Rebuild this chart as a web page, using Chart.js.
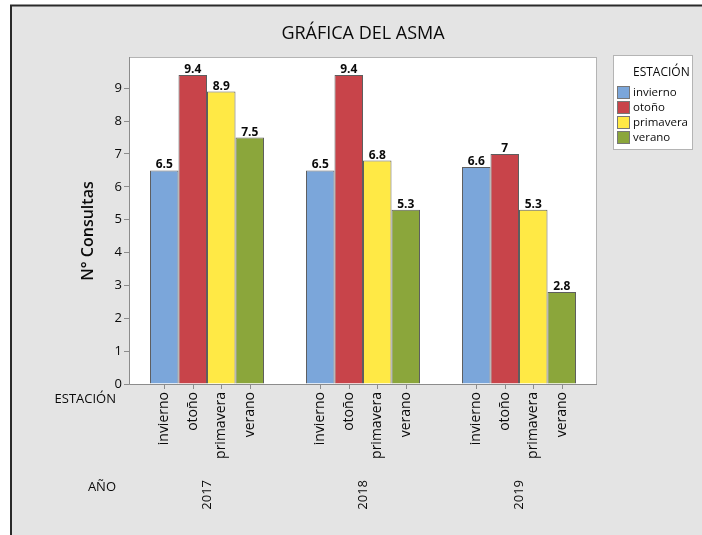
<!DOCTYPE html>
<html><head><meta charset="utf-8">
<script src="https://cdn.jsdelivr.net/npm/chart.js@4"></script>
<style>html,body{margin:0;padding:0;background:#fff}canvas{display:block}</style>
</head><body>
<canvas id="c" width="702" height="535"></canvas>
<script>
const years = ['2017', '2018', '2019'];
const seasons = ['invierno', 'otoño', 'primavera', 'verano'];
const invierno = [6.5, 6.5, 6.6];
const otono = [9.4, 9.4, 7];
const primavera = [8.9, 6.8, 5.3];
const verano = [7.5, 5.3, 2.8];
const yTicks = [0, 1, 2, 3, 4, 5, 6, 7, 8, 9];
const seriesValues = [invierno, otono, primavera, verano];
const colors = ['#7BA6DA', '#C8444A', '#FFE945', '#8BA63B'];
const chartTitle = 'GRÁFICA DEL ASMA';
const yTitle = 'N° Consultas';
const legendTitle = 'ESTACIÓN';
const rowLabelSeason = 'ESTACIÓN';
const rowLabelYear = 'AÑO';
const FONT = "'Open Sans', 'Noto Sans', sans-serif";
const TXT = '#0a0a0a';

const deco = {
  id: 'deco',
  beforeDraw(chart) {
    const ctx = chart.ctx, a = chart.chartArea;
    ctx.save();
    ctx.fillStyle = '#ffffff';
    ctx.fillRect(0, 0, chart.width, chart.height);
    ctx.fillStyle = '#e4e4e4';
    ctx.fillRect(12, 6, chart.width - 12, chart.height - 6);
    ctx.strokeStyle = '#2a2a2a';
    ctx.lineWidth = 2;
    ctx.beginPath();
    ctx.moveTo(11, chart.height);
    ctx.lineTo(11, 5.5);
    ctx.lineTo(chart.width, 5.5);
    ctx.stroke();
    ctx.fillStyle = '#ffffff';
    ctx.fillRect(a.left, a.top, a.right - a.left, a.bottom - a.top);
    ctx.strokeStyle = '#b4b4b4';
    ctx.lineWidth = 1;
    ctx.strokeRect(a.left + 0.5, a.top + 0.5, a.right - a.left - 1, a.bottom - a.top);
    ctx.restore();
  },
  afterDatasetsDraw(chart) {
    const ctx = chart.ctx, a = chart.chartArea;
    ctx.save();
    ctx.strokeStyle = '#8c8c8c';
    ctx.lineWidth = 1;
    ctx.beginPath();
    ctx.moveTo(a.left + 0.5, a.top);
    ctx.lineTo(a.left + 0.5, a.bottom + 0.5);
    ctx.lineTo(a.right, a.bottom + 0.5);
    ctx.stroke();
    chart.data.datasets.forEach((ds, i) => {
      const meta = chart.getDatasetMeta(i);
      meta.data.forEach((el, j) => {
        const v = ds.data[j];
        ctx.fillStyle = TXT;
        ctx.font = 'bold 12px ' + FONT;
        ctx.textAlign = 'center';
        ctx.textBaseline = 'alphabetic';
        ctx.fillText(String(v), el.x, el.y - 2);
        ctx.strokeStyle = '#8c8c8c';
        ctx.beginPath();
        ctx.moveTo(Math.round(el.x) + 0.5, a.bottom);
        ctx.lineTo(Math.round(el.x) + 0.5, a.bottom + 5);
        ctx.stroke();
        ctx.save();
        ctx.translate(el.x, a.bottom + 8);
        ctx.rotate(-Math.PI / 2);
        ctx.font = '14px ' + FONT;
        ctx.fillStyle = TXT;
        ctx.textAlign = 'right';
        ctx.textBaseline = 'middle';
        ctx.fillText(ds.label, 0, 0);
        ctx.restore();
      });
    });
    const xs = chart.scales.x;
    years.forEach((y, i) => {
      const x = xs.getPixelForValue(i);
      ctx.save();
      ctx.translate(x, 480);
      ctx.rotate(-Math.PI / 2);
      ctx.font = '13px ' + FONT;
      ctx.fillStyle = TXT;
      ctx.textAlign = 'right';
      ctx.textBaseline = 'middle';
      ctx.fillText(y, 0, 0);
      ctx.restore();
    });
    ctx.font = '13px ' + FONT;
    ctx.fillStyle = TXT;
    ctx.textAlign = 'right';
    ctx.textBaseline = 'middle';
    ctx.fillText(rowLabelSeason, 116, 399);
    ctx.fillText(rowLabelYear, 116, 487);
    ctx.font = '18px ' + FONT;
    ctx.textAlign = 'center';
    ctx.fillText(chartTitle, (a.left + a.right) / 2, 34);
    ctx.save();
    ctx.translate(88, 231);
    ctx.rotate(-Math.PI / 2);
    ctx.font = '600 16px ' + FONT;
    ctx.textAlign = 'center';
    ctx.textBaseline = 'middle';
    ctx.fillText(yTitle, 0, 0);
    ctx.restore();
    ctx.fillStyle = '#ffffff';
    ctx.fillRect(613, 55, 80, 95);
    ctx.strokeStyle = '#b4b4b4';
    ctx.strokeRect(613.5, 55.5, 79, 94);
    ctx.fillStyle = TXT;
    ctx.textAlign = 'left';
    ctx.font = '12px ' + FONT;
    ctx.fillText(legendTitle, 633, 73);
    chart.data.datasets.forEach((ds, i) => {
      const yy = 92 + i * 15;
      ctx.fillStyle = ds.backgroundColor;
      ctx.fillRect(617, yy - 6, 13, 13);
      ctx.strokeStyle = '#777';
      ctx.strokeRect(617.5, yy - 5.5, 12, 12);
      ctx.fillStyle = TXT;
      ctx.font = '11.5px ' + FONT;
      ctx.fillText(ds.label, 633, yy + 1);
    });
    ctx.restore();
  }
};

new Chart(document.getElementById('c'), {
  type: 'bar',
  data: {
    labels: years,
    datasets: seasons.map((s, i) => ({
      label: s,
      data: seriesValues[i],
      backgroundColor: colors[i],
      borderColor: '#5e5e5e',
      borderWidth: 1,
      categoryPercentage: 0.731,
      barPercentage: 1.0
    }))
  },
  options: {
    responsive: false,
    devicePixelRatio: 1,
    animation: false,
    layout: { padding: { left: 0, right: 105, top: 57, bottom: 0 } },
    plugins: { legend: { display: false }, tooltip: { enabled: false }, title: { display: false } },
    scales: {
      x: {
        grid: { display: false },
        border: { display: false },
        ticks: { display: false },
        afterFit: s => { s.height = 151; }
      },
      y: {
        min: 0,
        max: 9.95,
        afterBuildTicks: s => { s.ticks = yTicks.map(v => ({ value: v })); },
        grid: { display: true, drawOnChartArea: false, drawTicks: true, tickLength: 5, color: '#8c8c8c' },
        border: { display: false },
        ticks: { font: { family: FONT, size: 13 }, color: TXT, padding: 2 },
        afterFit: s => { s.width = 129; }
      }
    }
  },
  plugins: [deco]
});
</script>
</body></html>
